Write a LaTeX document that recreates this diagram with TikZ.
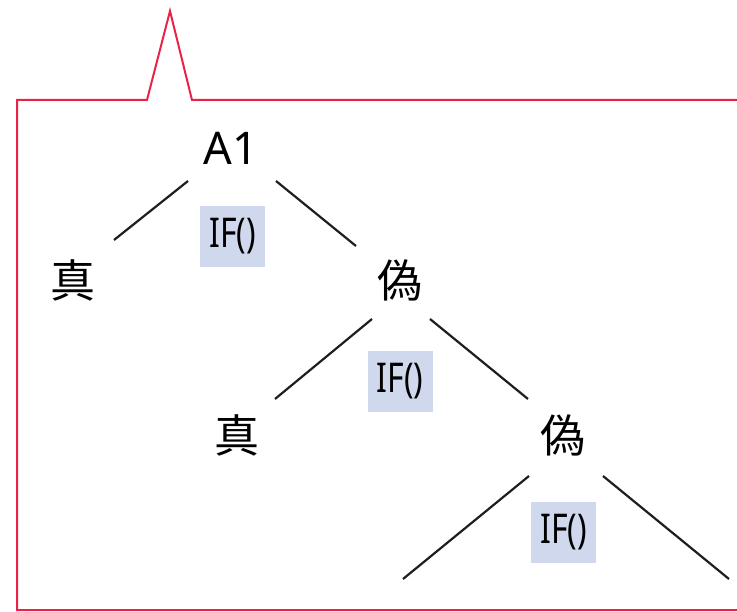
\documentclass[tikz,border=0pt]{standalone}
\usepackage{fontspec}
\setmainfont{Noto Sans}
\newfontfamily\cjk{Noto Sans CJK JP}
\definecolor{calloutred}{HTML}{E8234A}
\definecolor{ifblue}{HTML}{CFD8EC}
\definecolor{branch}{HTML}{1E1E1E}
\tikzset{
  x=1pt, y=-1pt,
  leaf/.style={inner sep=0pt, font=\cjk\fontsize{45}{45}\selectfont},
  cell/.style={inner sep=0pt, font=\fontsize{45}{45}\selectfont},
  ifbox/.style={fill=ifblue, minimum width=65pt, minimum height=61pt, inner sep=0pt,
    font=\fontsize{41}{41}\selectfont},
  edge/.style={draw=branch, line width=2.2pt},
}
\newcommand{\iflabel}{\scalebox{0.78}[1]{IF()}}
\begin{document}
\begin{tikzpicture}
\useasboundingbox (0,0) rectangle (737,612);
\clip (0,0) rectangle (737,612);
% callout frame with its pointer
\draw[calloutred, line width=2pt, line join=miter]
  (17,610) -- (17,100) -- (147,100) -- (170,11) -- (192,100) -- (745,100) -- (745,610) -- cycle;

% labels
\node[cell] (a1) at (231,148) {A1};
\node[leaf] (t1) at (73,280) {真};
\node[leaf] (f1) at (400,280) {偽};
\node[leaf] (t2) at (237,435) {真};
\node[leaf] (f2) at (563,435) {偽};

\node[ifbox] (if1) at (232.5,236.5) {\iflabel};
\node[ifbox] (if2) at (400,381.5) {\iflabel};
\node[ifbox] (if3) at (563.5,532.5) {\iflabel};

% branch end points
\coordinate (a1l) at (188,181);
\coordinate (a1r) at (276,181);
\coordinate (t1e) at (114,240);
\coordinate (f1e) at (356,246);
\coordinate (f1l) at (372,319);
\coordinate (f1r) at (430,319);
\coordinate (t2e) at (275,399);
\coordinate (f2e) at (528,399);
\coordinate (f2l) at (529,476);
\coordinate (f2r) at (603,476);
\coordinate (x3l) at (403,579);
\coordinate (x3r) at (729,579);

\draw[edge] (a1l) -- (t1e);
\draw[edge] (a1r) -- (f1e);
\draw[edge] (f1l) -- (t2e);
\draw[edge] (f1r) -- (f2e);
\draw[edge] (f2l) -- (x3l);
\draw[edge] (f2r) -- (x3r);
\end{tikzpicture}
\end{document}
